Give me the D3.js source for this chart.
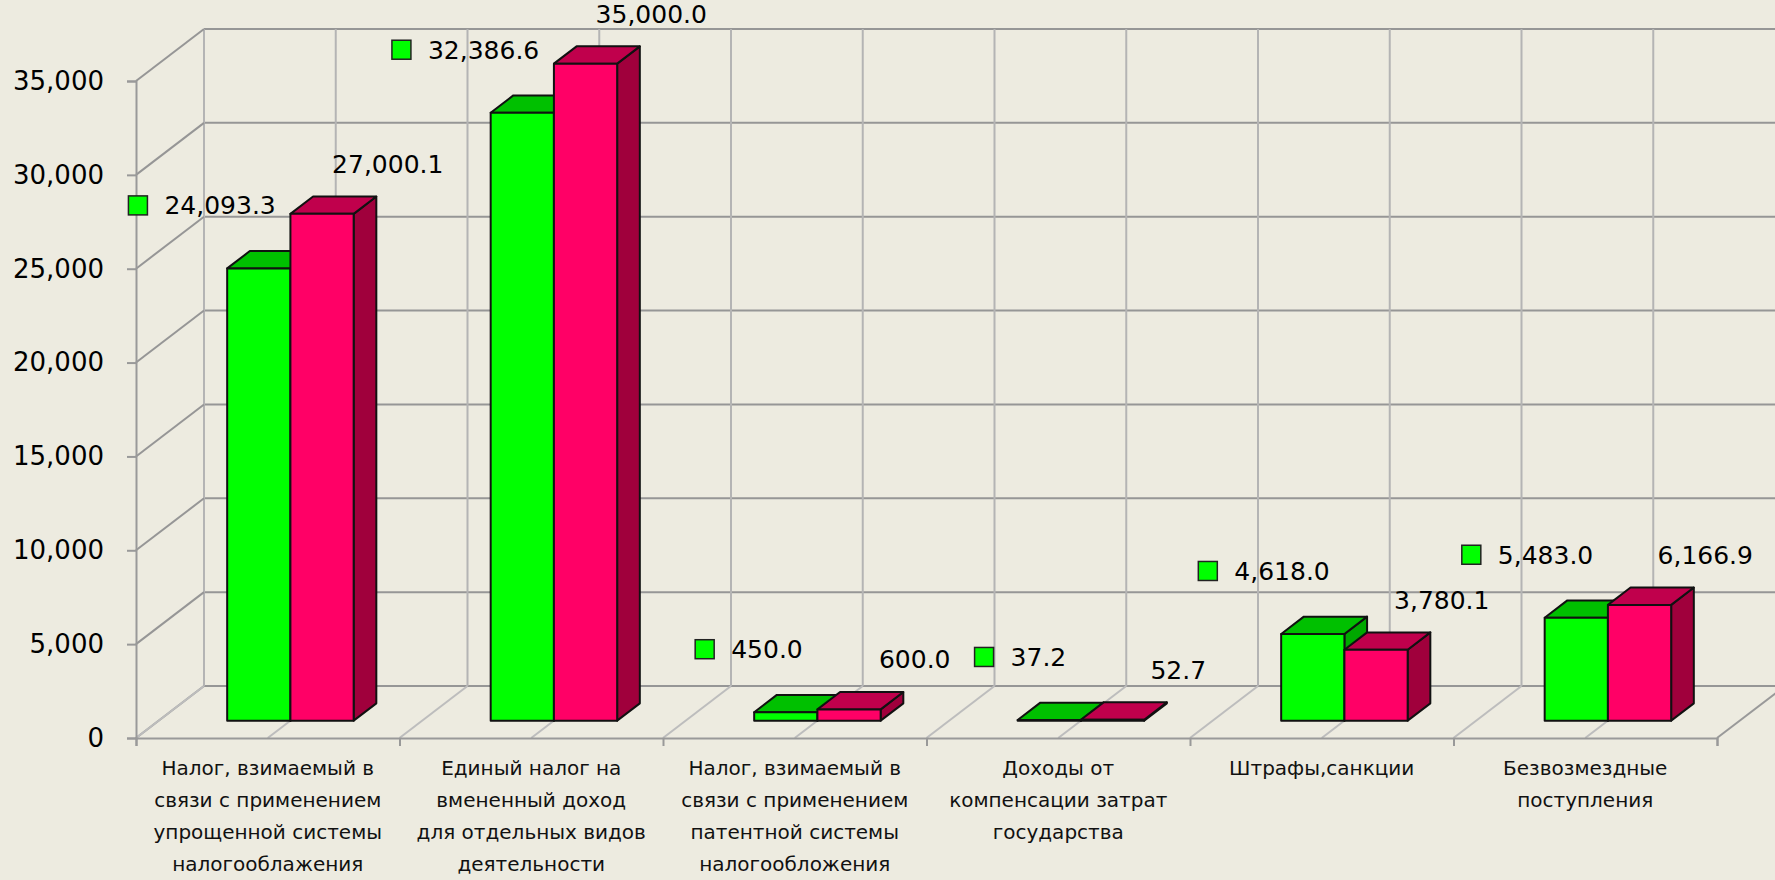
<!DOCTYPE html>
<html>
<head>
<meta charset="utf-8">
<script src="https://cdn.jsdelivr.net/npm/d3@7"></script>
<style>
  html, body { margin: 0; padding: 0; background: #edebe0; }
  svg { display: block; font-family: "DejaVu Sans", sans-serif; }
</style>
</head>
<body>
<div id="chart"></div>
<script>
// categories, one entry per group of bars (lines as shown under the axis)
const categories = [
  ["Налог, взимаемый в", "связи с применением", "упрощенной системы", "налогооблажения"],
  ["Единый налог на", "вмененный доход", "для отдельных видов", "деятельности"],
  ["Налог, взимаемый в", "связи с применением", "патентной системы", "налогообложения"],
  ["Доходы от", "компенсации затрат", "государства"],
  ["Штрафы,санкции"],
  ["Безвозмездные", "поступления"]
];
const seriesKeys = ["first", "second"];
const firstValues = [24093.3, 32386.6, 450.0, 37.2, 4618.0, 5483.0];
const secondValues = [27000.1, 35000.0, 600.0, 52.7, 3780.1, 6166.9];
const yTicks = [0, 5000, 10000, 15000, 20000, 25000, 30000, 35000];

const chartW = 1775;
const chartH = 880;

// front plane of the plot and the depth offset of the 3d box
const plotLeft = 136, plotRight = 1717, plotBottom = 738, plotTop = 81;
const depthX = 68, depthY = -52;

const colors = {
  first: { front: "#00ff00", top: "#00c000", side: "#00a800" },
  second: { front: "#ff0066", top: "#c0004c", side: "#a0003c" }
};

function draw() {
  const svg = d3.select("#chart").append("svg")
    .attr("width", chartW)
    .attr("height", chartH);

  svg.append("rect")
    .attr("width", chartW)
    .attr("height", chartH)
    .attr("fill", "#edebe0");

  const names = categories.map(c => c.join(" "));
  const y = d3.scaleLinear().domain([0, 35000]).range([plotBottom, plotTop]);
  const x = d3.scaleBand().domain(names).range([plotLeft, plotRight]);
  const groupW = x.bandwidth() * 0.48;
  const xs = d3.scaleBand().domain(seriesKeys).range([0, groupW]);
  const idx = d3.scaleLinear().domain([0, categories.length]).range([plotLeft, plotRight]);

  const grid = svg.append("g");
  const halfSteps = d3.range(0, categories.length * 2 + 1);

  // back wall horizontal lines
  grid.selectAll(".hback")
    .data(yTicks)
    .enter()
    .append("line")
    .attr("x1", plotLeft + depthX)
    .attr("x2", plotRight + depthX)
    .attr("y1", d => y(d) + depthY)
    .attr("y2", d => y(d) + depthY)
    .style("stroke", "#969696")
    .style("stroke-width", 2);

  // back wall vertical lines, every half category
  grid.selectAll(".vback")
    .data(halfSteps)
    .enter()
    .append("line")
    .attr("x1", d => idx(d / 2) + depthX)
    .attr("x2", d => idx(d / 2) + depthX)
    .attr("y1", y(35000) + depthY)
    .attr("y2", y(0) + depthY)
    .style("stroke", "#b4b4b4")
    .style("stroke-width", 2);

  // left wall diagonals
  grid.selectAll(".lwall")
    .data(yTicks)
    .enter()
    .append("line")
    .attr("x1", plotLeft)
    .attr("x2", plotLeft + depthX)
    .attr("y1", d => y(d))
    .attr("y2", d => y(d) + depthY)
    .style("stroke", "#969696")
    .style("stroke-width", 2);

  // floor diagonals
  grid.selectAll(".floor")
    .data(halfSteps)
    .enter()
    .append("line")
    .attr("x1", d => idx(d / 2))
    .attr("x2", d => idx(d / 2) + depthX)
    .attr("y1", y(0))
    .attr("y2", y(0) + depthY)
    .style("stroke", d => d === halfSteps.length - 1 ? "#999" : "#bdbdbd")
    .style("stroke-width", 2);

  // axes
  const yAxis = svg.append("g")
    .attr("transform", `translate(${plotLeft},0)`)
    .call(d3.axisLeft(y).tickValues(yTicks).tickFormat(d3.format(",")).tickSize(9).tickPadding(23));
  yAxis.select(".domain").style("stroke", "#999").style("stroke-width", 2);
  yAxis.selectAll(".tick line").style("stroke", "#999").style("stroke-width", 2);
  yAxis.selectAll("text")
    .style("font-size", "26px")
    .style("font-family", "DejaVu Sans, sans-serif")
    .style("fill", "#000");

  const xAxis = svg.append("g")
    .attr("transform", `translate(0,${plotBottom})`)
    .call(d3.axisBottom(idx).tickValues(d3.range(0, categories.length + 1)).tickFormat("").tickSize(8));
  xAxis.select(".domain").style("stroke", "#999").style("stroke-width", 2);
  xAxis.selectAll(".tick line").style("stroke", "#999").style("stroke-width", 2);

  // category labels
  svg.selectAll(".cat")
    .data(categories)
    .enter()
    .append("text")
    .attr("class", "cat")
    .attr("text-anchor", "middle")
    .style("font-size", "20px")
    .style("fill", "#111")
    .each(function (lines, i) {
      const cx = x(names[i]) + x.bandwidth() / 2;
      d3.select(this).selectAll("tspan")
        .data(lines)
        .enter()
        .append("tspan")
        .attr("x", cx)
        .attr("y", (d, j) => 775 + j * 32)
        .text(d => d);
    });

  // bars, placed in the middle third of the depth
  const bx = depthX / 3, by = depthY / 3;
  const bars = [];
  categories.forEach((c, i) => {
    bars.push({ cat: names[i], key: "first", value: firstValues[i] });
    bars.push({ cat: names[i], key: "second", value: secondValues[i] });
  });

  const barG = svg.append("g");
  bars.forEach(b => {
    const x0 = x(b.cat) + (x.bandwidth() - groupW) / 2 + xs(b.key) + bx;
    const x1 = x0 + xs.bandwidth();
    const yt = y(b.value) + by;
    const yb = y(0) + by;
    const col = colors[b.key];
    const g = barG.append("g")
      .style("stroke", "#111")
      .style("stroke-width", 2)
      .style("stroke-linejoin", "round");
    g.append("polygon")
      .attr("points", [[x1, yt], [x1 + bx, yt + by], [x1 + bx, yb + by], [x1, yb]].join(" "))
      .style("fill", col.side);
    g.append("polygon")
      .attr("points", [[x0, yt], [x1, yt], [x1 + bx, yt + by], [x0 + bx, yt + by]].join(" "))
      .style("fill", col.top);
    g.append("rect")
      .attr("x", x0)
      .attr("y", yt)
      .attr("width", x1 - x0)
      .attr("height", Math.max(0, yb - yt))
      .style("fill", col.front);
  });

  // value labels
  const fmt = d3.format(",.1f");
  const labels = svg.append("g").style("font-size", "25px").style("fill", "#000");
  categories.forEach((c, i) => {
    const cx = x(names[i]) + x.bandwidth() / 2;
    const ya = y(firstValues[i]) + by - 63;
    const t = labels.append("text")
      .attr("x", cx + 8)
      .attr("y", ya + 9)
      .attr("text-anchor", "end")
      .text(fmt(firstValues[i]));
    const w = t.node().getComputedTextLength();
    labels.append("rect")
      .attr("x", cx + 8 - w - 17 - 19)
      .attr("y", ya - 9.5)
      .attr("width", 19)
      .attr("height", 19)
      .style("fill", colors.first.front)
      .style("stroke", "#222")
      .style("stroke-width", 1.5);

    const yb = y(secondValues[i]) + by - 50;
    labels.append("text")
      .attr("x", cx + 120)
      .attr("y", yb + 9)
      .attr("text-anchor", "middle")
      .text(fmt(secondValues[i]));
  });
}

window.onload = draw;
</script>
</body>
</html>
